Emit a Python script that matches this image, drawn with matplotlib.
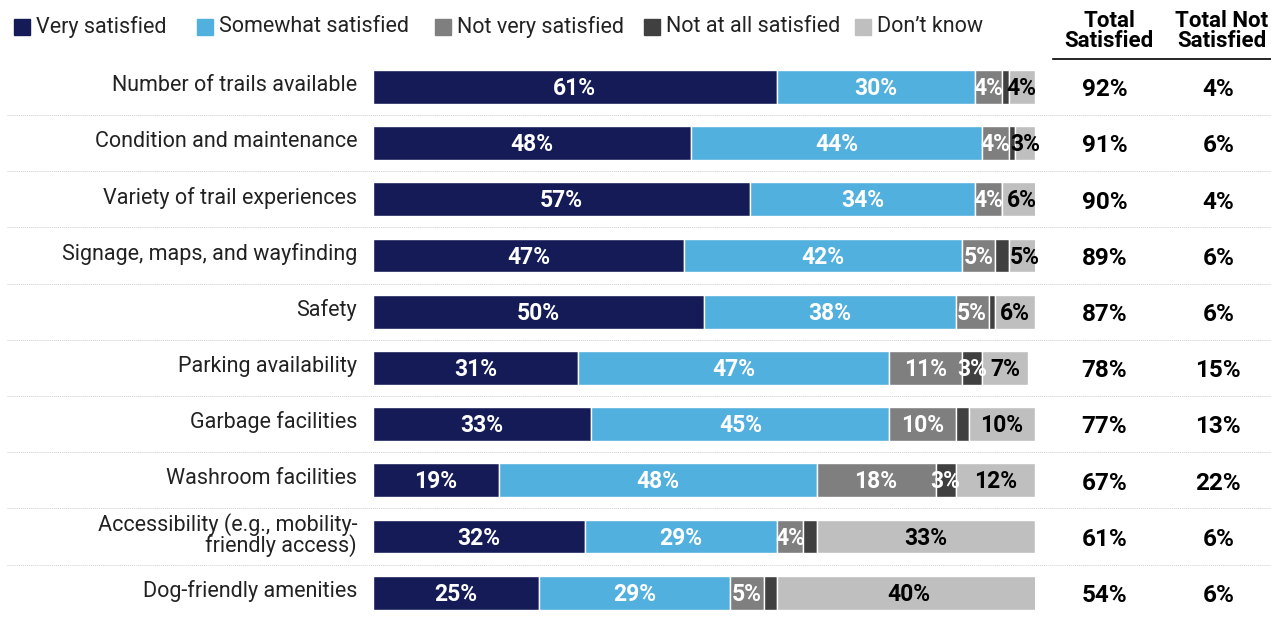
import matplotlib.pyplot as plt
from matplotlib.patches import Rectangle
import numpy as np

plt.rcParams['font.family'] = ['Roboto', 'DejaVu Sans']

categories = ["Number of trails available", "Condition and maintenance",
              "Variety of trail experiences", "Signage, maps, and wayfinding",
              "Safety", "Parking availability", "Garbage facilities",
              "Washroom facilities", "Accessibility (e.g., mobility-\nfriendly access)",
              "Dog-friendly amenities"]
series = ["Very satisfied", "Somewhat satisfied", "Not very satisfied",
          "Not at all satisfied", "Don\u2019t know"]
very = [61, 48, 57, 47, 50, 31, 33, 19, 32, 25]
somewhat = [30, 44, 34, 42, 38, 47, 45, 48, 29, 29]
not_very = [4, 4, 4, 5, 5, 11, 10, 18, 4, 5]
not_at_all = [1, 1, 0, 2, 1, 3, 2, 3, 2, 2]
dont_know = [4, 3, 6, 5, 6, 7, 10, 12, 33, 40]
total_sat = [92, 91, 90, 89, 87, 78, 77, 67, 61, 54]
total_not = [4, 6, 4, 6, 6, 15, 13, 22, 6, 6]

colors = ["#141b56", "#52b0de", "#7f7f7f", "#404040", "#bfbfbf"]
text_colors = ["white", "white", "white", "white", "black"]

W, H = 1271, 622
fig = plt.figure(figsize=(W / 100, H / 100), dpi=100)
x0, x1 = 373, 1035
top = 58.8
ax = fig.add_axes([x0 / W, 0, (x1 - x0) / W, (H - top) / H])
ax.set_xlim(0, 100)
ax.set_ylim(9.5 - (H - top - 10 * 56.44) / 56.44, -0.5)
ax.axis('off')

y = np.arange(len(categories))
data = [very, somewhat, not_very, not_at_all, dont_know]
left = np.zeros(len(categories))
for vals, col, tc in zip(data, colors, text_colors):
    vals = np.array(vals, dtype=float)
    ax.barh(y, vals, left=left, height=0.6, color=col, edgecolor='white', linewidth=1)
    for yi, (l, v) in enumerate(zip(left, vals)):
        if v >= 3:
            ax.text(l + v / 2, yi + 0.03, f"{int(v)}%", ha='center', va='center',
                    color=tc, fontsize=16.5, fontweight='bold')
    left += vals

for yi, cat in enumerate(categories):
    ax.text(-2.4, yi - 0.03, cat, ha='right', va='center', fontsize=15.5,
            color='#222222', linespacing=0.9)
    ax.text(110.5, yi + 0.05, f"{total_sat[yi]}%", ha='center', va='center',
            fontsize=17.5, fontweight='bold')
    ax.text(127.7, yi + 0.05, f"{total_not[yi]}%", ha='center', va='center',
            fontsize=17.5, fontweight='bold')

for yi in range(len(categories) - 1):
    ax.axhline(yi + 0.5, xmin=-373 / 662 + 0.01, xmax=(W - x0) / 662,
               color='#d0d0d0', linestyle=(0, (1, 1)), linewidth=0.7, clip_on=False)

# column headers
fig.text(1109 / W, 1 - 31 / H, "Total\nSatisfied", ha='center', va='center',
         fontsize=16, fontweight='bold', linespacing=0.85)
fig.text(1222 / W, 1 - 31 / H, "Total Not\nSatisfied", ha='center', va='center',
         fontsize=16, fontweight='bold', linespacing=0.85)
fig.add_artist(plt.Line2D([1053 / W, 1], [1 - 59 / H, 1 - 59 / H], color='black', linewidth=1.2))

# legend
sq_x = [14, 197, 435, 644, 855]
for sx, name, col in zip(sq_x, series, colors):
    fig.add_artist(Rectangle((sx / W, 1 - 35 / H), 16 / W, 16 / H, color=col,
                             transform=fig.transFigure))
    fig.text((sx + 22) / W, 1 - 27 / H, name, ha='left', va='center',
             fontsize=15.5, color='#222222')

fig.savefig("out.png", dpi=100)
